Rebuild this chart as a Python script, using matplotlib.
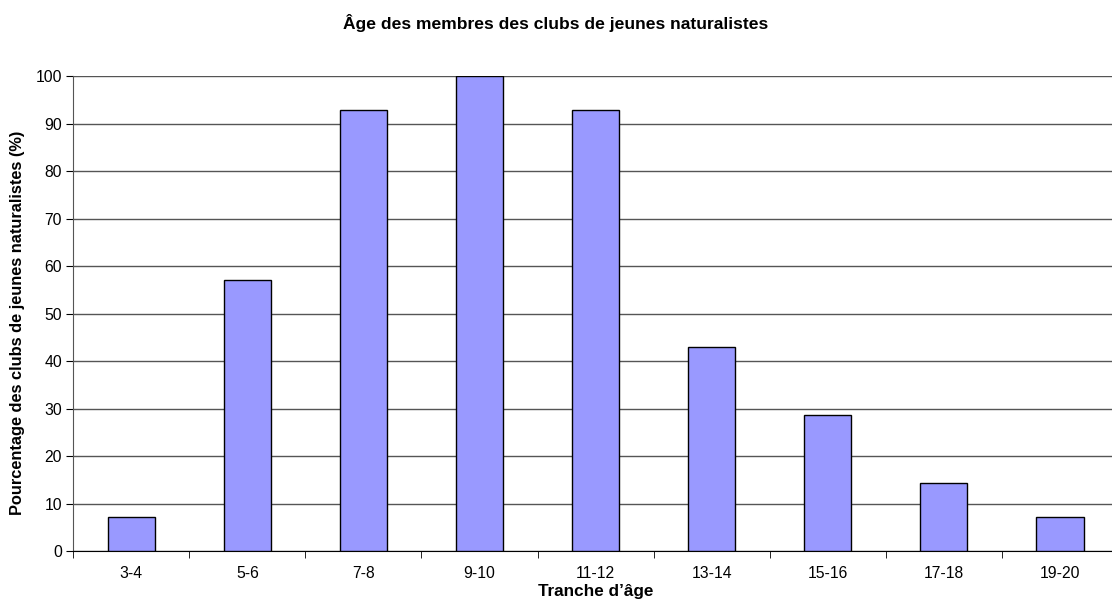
import numpy as np
import matplotlib.pyplot as plt

plt.rcParams['font.family'] = ['Liberation Sans', 'DejaVu Sans']

tranches = ['3-4', '5-6', '7-8', '9-10', '11-12', '13-14', '15-16', '17-18', '19-20']
pourcentages = [7.14, 57.14, 92.86, 100.0, 92.86, 42.86, 28.57, 14.29, 7.14]

fig = plt.figure(figsize=(11.12, 6.09), dpi=100)
ax = fig.add_axes([0.0659, 0.0952, 0.9393, 0.78])

x = np.arange(len(tranches))
ax.bar(x, pourcentages, width=0.41, color='#9999FF', edgecolor='black', linewidth=1, zorder=3)

ax.set_xlim(-0.5, len(tranches) - 0.5)
ax.set_ylim(0, 100)
ax.set_yticks(np.arange(0, 101, 10))
ax.yaxis.grid(True, color='#555555', linewidth=1, zorder=0)

ax.set_xticks(x)
ax.set_xticklabels(tranches, fontsize=11.3)
ax.set_xticks(np.arange(-0.5, len(tranches), 1), minor=True)
ax.tick_params(axis='x', which='major', length=0, pad=11)
ax.tick_params(axis='x', which='minor', length=5, direction='out', color='black')
ax.tick_params(axis='y', length=5, direction='out', labelsize=11.3, pad=3)

for s in ['top', 'right']:
    ax.spines[s].set_visible(False)
ax.spines['left'].set_color('#555555')
ax.spines['bottom'].set_color('black')

ax.set_xlabel('Tranche d\u2019\u00e2ge', fontsize=12.3, fontweight='bold', labelpad=2)
ax.set_ylabel('Pourcentage des clubs de jeunes naturalistes (%)', fontsize=11.8, fontweight='bold')
ax.yaxis.set_label_coords(-0.046, 0.481)
fig.text(0.5, 0.963, '\u00c2ge des membres des clubs de jeunes naturalistes',
         ha='center', va='center', fontsize=12.6, fontweight='bold')

fig.savefig('out.png', dpi=100)
